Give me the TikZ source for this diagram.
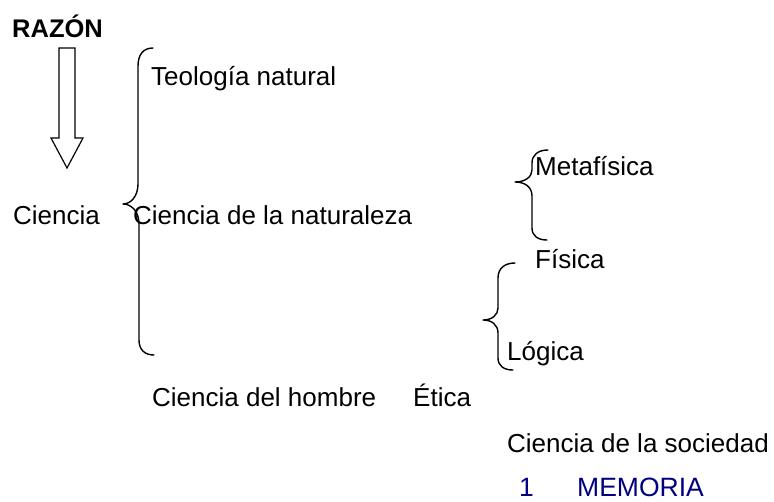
\documentclass[tikz,border=0pt]{standalone}
\usepackage{fontspec}
\setmainfont{Liberation Sans}
\definecolor{memblue}{HTML}{000080}
\tikzset{
  lbl/.style={anchor=base west, inner sep=0pt, font=\fontsize{26}{30}\selectfont},
  brace/.style={line width=1.4pt, line cap=round, line join=round},
  blockarrow/.style={line width=1.2pt, line join=miter}
}
\begin{document}
\begin{tikzpicture}[x=1pt, y=-1pt]
\useasboundingbox (0,0) rectangle (774,501);
% title
\node[anchor=base west, inner sep=0pt, font=\fontsize{25.5}{30}\selectfont\bfseries] (razon) at (12,37) {RAZÓN};
% block arrow
\draw[blockarrow] (59,48) -- (75,48) -- (75,138) -- (83,138) -- (67,168)
  -- (51,138) -- (59,138) -- cycle;
% texts
\node[lbl] (ciencia) at (13,224) {Ciencia};
\node[lbl] (teo) at (151,85) {Teología natural};
\node[lbl] (natur) at (133,224) {Ciencia de la naturaleza};
\node[lbl] (hombre) at (152,406) {Ciencia del hombre};
\node[lbl] (etica) at (413,406) {Ética};
\node[lbl] (meta) at (535,175) {Metafísica};
\node[lbl] (fisica) at (535,268) {Física};
\node[lbl] (logica) at (507,360) {Lógica};
\node[lbl] (socied) at (507,452) {Ciencia de la sociedad};
\node[anchor=base west, inner sep=0pt, text=memblue, font=\fontsize{26.5}{30}\selectfont] (uno) at (519,496.5) {1};
\node[anchor=base west, inner sep=0pt, text=memblue, font=\fontsize{26.5}{30}\selectfont] (memoria) at (577,496.5) {MEMORIA};
% big brace
\draw[brace] (153,48) .. controls (143,48) and (138,55) .. (138,66) -- (138,184)
  .. controls (138,196) and (131,204) .. (123,204)
  .. controls (131,204) and (139,211) .. (139,224) -- (139,340)
  .. controls (139,350) and (145,355) .. (154,355);
% Metafisica brace
\draw[brace] (548,150) .. controls (538,150) and (532,155) .. (532,163) -- (532,170)
  .. controls (532,177) and (525,182) .. (515,182)
  .. controls (525,182) and (532,187) .. (532,196) -- (532,228)
  .. controls (532,236) and (538,240) .. (547,240);
% Logica brace
\draw[brace] (515,263) .. controls (505,263) and (498,268) .. (498,278) -- (498,308)
  .. controls (498,315) and (492,320) .. (483,320)
  .. controls (492,320) and (498,325) .. (498,333) -- (498,358)
  .. controls (498,366) and (504,370) .. (513,370);
\end{tikzpicture}
\end{document}
